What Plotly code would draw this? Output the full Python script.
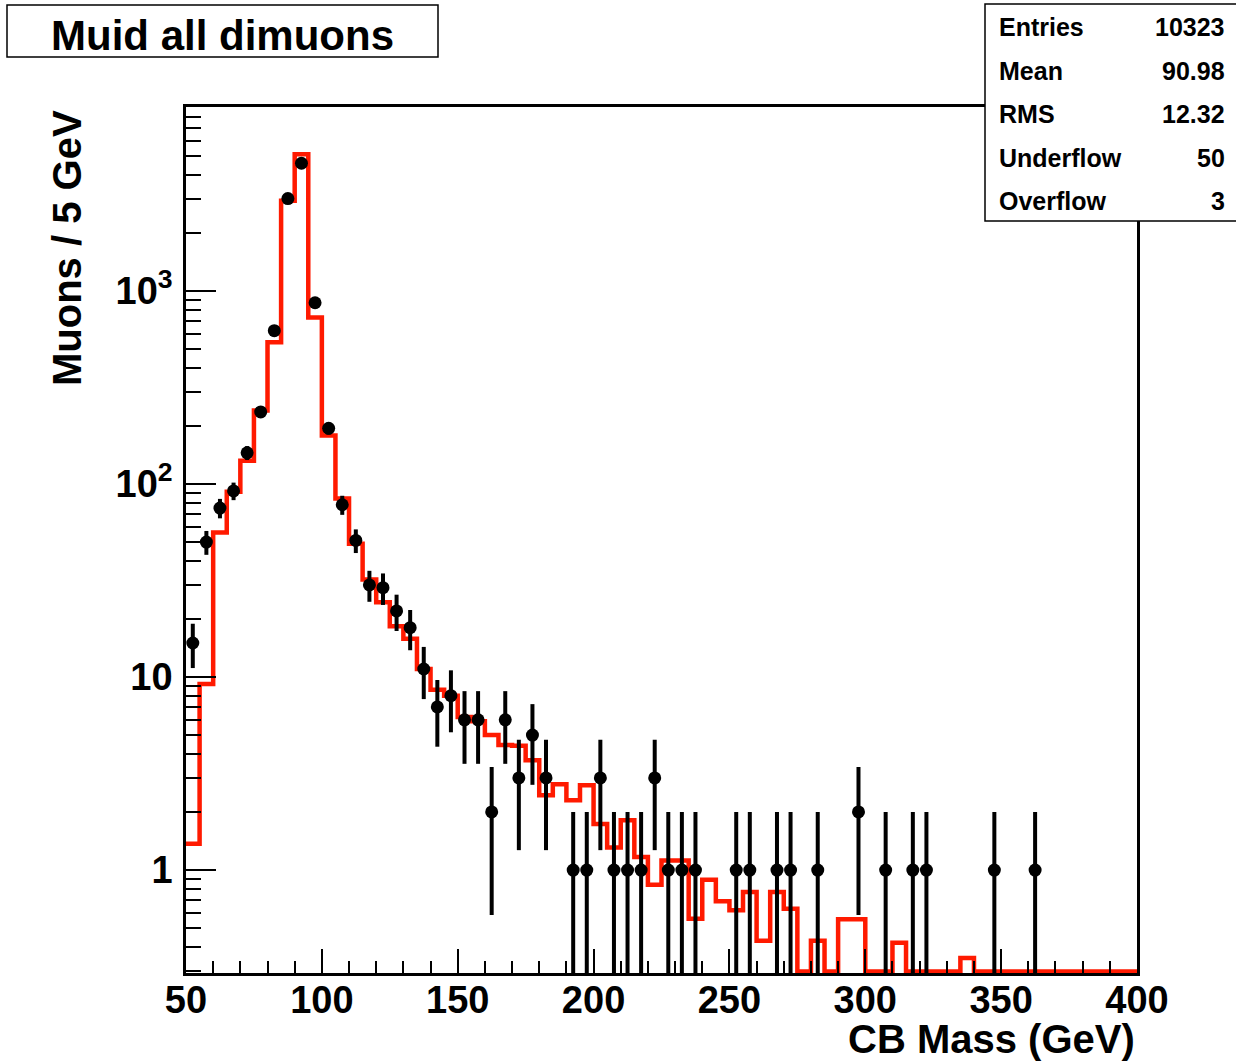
import numpy as np
import plotly.graph_objects as go

# ---------------- data ----------------
bin_low_edges = list(range(50, 400, 5))          # 70 bins of 5 GeV, 50..400
x_max = 400

data_counts = [
    15, 50, 75, 92, 145, 236, 622, 3006, 4580, 868,      # 50-100
    194, 78, 51, 30, 29, 22, 18, 11, 7, 8,               # 100-150
    6, 6, 2, 6, 3, 5, 3, 0, 1, 1,                        # 150-200
    3, 1, 1, 1, 3, 1, 1, 1, 0, 0,                        # 200-250
    1, 1, 0, 1, 1, 0, 1, 0, 0, 2,                        # 250-300
    0, 1, 0, 1, 1, 0, 0, 0, 0, 1,                        # 300-350
    0, 0, 1, 0, 0, 0, 0, 0, 0, 0,                        # 350-400
]

mc_counts = [
    1.37, 9.2, 56, 91, 132, 240, 541, 2925, 5100, 728,   # 50-100
    178, 84, 49, 32, 24.4, 18.3, 15.8, 11, 8.6, 8.0,     # 100-150
    6.2, 5.9, 5.0, 4.45, 4.4, 3.7, 2.44, 2.78, 2.30, 2.75,   # 150-200
    1.73, 1.31, 1.81, 1.17, 0.84, 1.12, 1.12, 0.56, 0.89, 0.69,  # 200-250
    0.62, 0.77, 0.43, 0.77, 0.63, 0, 0.43, 0, 0.556, 0.556,      # 250-300
    0, 0, 0.42, 0, 0, 0, 0, 0.35, 0, 0,                  # 300-350
    0, 0, 0, 0, 0, 0, 0, 0, 0, 0,                        # 350-400
]

title_text = "Muid all dimuons"
x_title = "CB Mass (GeV)"
y_title = "Muons / 5 GeV"
stats_labels = ["Entries", "Mean", "RMS", "Underflow", "Overflow"]
stats_values = ["10323", "90.98", "12.32", "50", "3"]

x_tickvals = [50, 100, 150, 200, 250, 300, 350, 400]
y_tickvals = [1, 10, 100, 1000]
y_ticktext = ["1", "10", "10<sup>2</sup>", "10<sup>3</sup>"]

# ---------------- layout geometry ----------------
W, H = 1236, 1061
L, R, T, B = 186, 1137, 107, 973
ylo, yhi = np.log10(0.293), np.log10(8960)

def px2x(px):
    return (px - L) / (R - L)

def py2y(py):
    return (B - py) / (B - T)

FONT = "Liberation Sans, Arial, Helvetica, sans-serif"
red = "#ff1a00"

# ---------------- traces ----------------
bw = 5
centers = [e + bw / 2 for e in bin_low_edges]
floor_val = 10 ** (ylo + 0.008)   # empty MC bins are drawn on the axis minimum (ROOT style)

mc_plot = [v if v > 0 else floor_val for v in mc_counts]
step_x = list(bin_low_edges) + [x_max]
step_y = mc_plot + [mc_plot[-1]]

fig = go.Figure()
fig.add_trace(go.Scatter(
    x=step_x, y=step_y, mode="lines", line=dict(color=red, width=4.5, shape="hv"),
    hoverinfo="skip", showlegend=False))

dx = [c for c, n in zip(centers, data_counts) if n > 0]
dy = [n for n in data_counts if n > 0]
derr = [np.sqrt(n) for n in dy]
fig.add_trace(go.Scatter(
    x=dx, y=dy, mode="markers",
    marker=dict(color="black", size=13, symbol="circle"),
    error_y=dict(type="data", array=derr, arrayminus=derr, color="black",
                 thickness=4, width=0),
    showlegend=False))

# minor ticks for log y axis
minor_y = []
for dec in [0.1, 1, 10, 100, 1000]:
    for k in range(2, 10):
        v = k * dec
        if 0.29 <= v <= 8960:
            minor_y.append(v)

fig.update_layout(
    width=W, height=H,
    margin=dict(l=L, r=W - R, t=T, b=H - B, pad=0),
    paper_bgcolor="white", plot_bgcolor="white",
    font=dict(family=FONT, color="black"),
    xaxis=dict(
        range=[50, 400], showgrid=False, zeroline=False,
        showline=True, linecolor="black", linewidth=2.5, mirror=True,
        ticks="inside", ticklen=24, tickwidth=1.5, tickcolor="black",
        tickvals=x_tickvals,
        tickfont=dict(family=FONT, size=38, color="black", weight="bold"),
        ticklabelstandoff=-8,
        minor=dict(ticks="inside", ticklen=12, tickwidth=1.5, tickcolor="black",
                   tick0=50, dtick=10, showgrid=False),
    ),
    yaxis=dict(
        type="log", range=[ylo, yhi], showgrid=False, zeroline=False,
        showline=True, linecolor="black", linewidth=2.5, mirror=True,
        ticks="inside", ticklen=30, tickwidth=1.5, tickcolor="black",
        tickvals=y_tickvals, ticktext=y_ticktext,
        tickfont=dict(family=FONT, size=38, color="black", weight="bold"),
        ticklabelstandoff=3,
        minor=dict(ticks="inside", ticklen=15, tickwidth=1.5, tickcolor="black",
                   tickmode="array", tickvals=minor_y, showgrid=False),
    ),
)

# title box
fig.add_shape(type="rect", xref="paper", yref="paper",
              x0=px2x(7), x1=px2x(438), y0=py2y(57), y1=py2y(5),
              line=dict(color="black", width=1.5), fillcolor="white", layer="above")
fig.add_annotation(xref="paper", yref="paper", x=px2x(222), y=py2y(36),
                   xanchor="center", yanchor="middle", showarrow=False,
                   text=title_text,
                   font=dict(family=FONT, size=42, color="black", weight="bold"))

# stats box
fig.add_shape(type="rect", xref="paper", yref="paper",
              x0=px2x(985), x1=px2x(1245), y0=py2y(221), y1=py2y(4),
              line=dict(color="black", width=1.5), fillcolor="white", layer="above")
row_y = [27, 71, 114, 158, 201]
for lab, val, ry in zip(stats_labels, stats_values, row_y):
    fig.add_annotation(xref="paper", yref="paper", x=px2x(997), y=py2y(ry),
                       xanchor="left", yanchor="middle", showarrow=False, text=lab,
                       font=dict(family=FONT, size=25, color="black", weight="bold"))
    fig.add_annotation(xref="paper", yref="paper", x=px2x(1227), y=py2y(ry),
                       xanchor="right", yanchor="middle", showarrow=False, text=val,
                       font=dict(family=FONT, size=25, color="black", weight="bold"))

# axis titles (ROOT style, aligned to the axis ends)
fig.add_annotation(xref="paper", yref="paper", x=1.0, y=py2y(1039),
                   xanchor="right", yanchor="middle", showarrow=False, text=x_title,
                   font=dict(family=FONT, size=40, color="black", weight="bold"))
fig.add_annotation(xref="paper", yref="paper", x=px2x(67), y=py2y(108),
                   xanchor="center", yanchor="top", showarrow=False, text=y_title,
                   textangle=-90,
                   font=dict(family=FONT, size=40, color="black", weight="bold"))

fig.write_html("out.html")
